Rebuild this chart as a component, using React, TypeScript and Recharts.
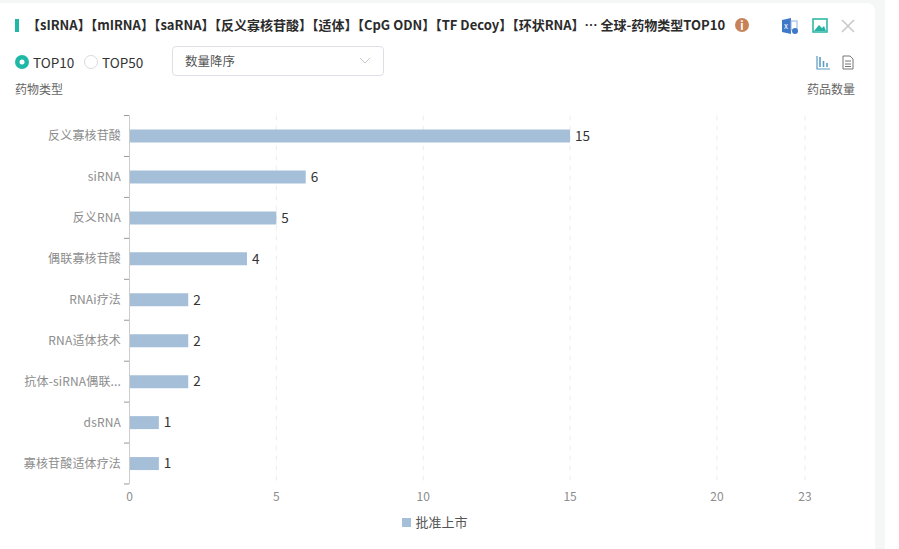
import { BarChart, Bar, CartesianGrid, XAxis, YAxis, Legend, LabelList } from 'recharts';

const FONT = '"Noto Sans CJK SC", "Noto Sans", sans-serif';

const categories = ['反义寡核苷酸', 'siRNA', '反义RNA', '偶联寡核苷酸', 'RNAi疗法', 'RNA适体技术', '抗体-siRNA偶联...', 'dsRNA', '寡核苷酸适体疗法'];
const approved = [15, 6, 5, 4, 2, 2, 2, 1, 1];
const xTicks = [0, 5, 10, 15, 20, 23];
const title = '【sIRNA】【mIRNA】【saRNA】【反义寡核苷酸】【适体】【CpG ODN】【TF Decoy】【环状RNA】… 全球-药物类型TOP10';

const data = categories.map((name, i) => ({ name, value: approved[i] }));

const BAND = 40.9;

// tick marks sit on the band edges, not the band centre
function CategoryTick({ x, y, payload, index }: any) {
  return (
    <g>
      <line x1={x + 8.5} x2={x + 13.5} y1={y - BAND / 2} y2={y - BAND / 2} stroke="#999" />
      {index === categories.length - 1 && (
        <line x1={x + 8.5} x2={x + 13.5} y1={y + BAND / 2} y2={y + BAND / 2} stroke="#999" />
      )}
      <text x={x + 5.5} y={y} dy={4} textAnchor="end" fontSize={12} letterSpacing={0.15} fill="#8c8c8c" fontFamily={FONT}>
        {payload.value}
      </text>
    </g>
  );
}

function Header() {
  return (
    <>
      <div style={{ position: 'absolute', left: 15, top: 19, width: 4, height: 13, background: '#1fb8a6' }} />
      <div style={{ position: 'absolute', left: 27, top: 15, width: 700, fontSize: 13, lineHeight: '20px', fontWeight: 700, color: '#2b2b2b', whiteSpace: 'nowrap' }}>
        {title}
      </div>
      <div style={{ position: 'absolute', left: 735, top: 18, width: 14, height: 14, borderRadius: 7, background: '#c8825a', color: '#fff', fontSize: 11, lineHeight: '14px', textAlign: 'center', fontWeight: 700 }}>i</div>

      <svg style={{ position: 'absolute', left: 780, top: 16 }} width={100} height={20}>
        <path d="M2 4 L11 2 V18 L2 16 Z" fill="#3f78c9" />
        <rect x={11} y={5} width={6} height={9} fill="none" stroke="#8fb0de" />
        <circle cx={15} cy={15} r={3} fill="#3f78c9" />
        <text x={4} y={13} fontSize={8} fill="#fff" fontFamily={FONT}>x</text>
        <rect x={33} y={3} width={14} height={13} fill="none" stroke="#25b3a3" strokeWidth={1.5} />
        <path d="M34 15 L39 9 L42 12 L44 10 L46 15 Z" fill="#25b3a3" />
        <path d="M62 4 L74 16 M74 4 L62 16" stroke="#c9c9c9" strokeWidth={1.6} />
      </svg>

      <svg style={{ position: 'absolute', left: 15, top: 55 }} width={14} height={14}>
        <circle cx={7} cy={7} r={7} fill="#1fb8a6" />
        <circle cx={7} cy={7} r={2.5} fill="#fff" />
      </svg>
      <div style={{ position: 'absolute', left: 33, top: 52, fontSize: 13.5, lineHeight: '20px', color: '#333' }}>TOP10</div>
      <svg style={{ position: 'absolute', left: 84, top: 55 }} width={14} height={14}>
        <circle cx={7} cy={7} r={6.5} fill="#fff" stroke="#d9d9d9" />
      </svg>
      <div style={{ position: 'absolute', left: 102, top: 52, fontSize: 13.5, lineHeight: '20px', color: '#333' }}>TOP50</div>

      <div style={{ position: 'absolute', left: 172, top: 46, width: 210, height: 28, border: '1px solid #dcdfe6', borderRadius: 4, fontSize: 12.5, lineHeight: '27px', color: '#555', textIndent: 12 }}>
        数量降序
      </div>
      <svg style={{ position: 'absolute', left: 358, top: 56 }} width={14} height={10}>
        <path d="M2 2 L7 7 L12 2" fill="none" stroke="#c4c7cc" />
      </svg>

      <svg style={{ position: 'absolute', left: 815, top: 54 }} width={40} height={18}>
        <path d="M2 2 V15 H15" fill="none" stroke="#5b9bc4" strokeWidth={1.2} />
        <path d="M5 3 V13 M8.5 7 V13 M12 9 V13" stroke="#5b9bc4" strokeWidth={1.6} />
        <path d="M28 2 H35 L38 5 V15 H28 Z M30 7 H36 M30 10 H36 M30 12.5 H36" fill="none" stroke="#777" />
      </svg>

      <div style={{ position: 'absolute', left: 15, top: 80, fontSize: 12, lineHeight: '17px', color: '#666' }}>药物类型</div>
      <div style={{ position: 'absolute', left: 807, top: 80, fontSize: 12, lineHeight: '17px', color: '#666' }}>药品数量</div>
    </>
  );
}

export default function App() {
  return (
    <div style={{ position: 'absolute', left: 0, top: 0, width: 899, height: 549, overflow: 'hidden', background: '#fff', fontFamily: FONT }}>
      <div style={{ position: 'absolute', left: 0, top: 0, width: 885, height: 549, background: '#f5f7f7' }} />
      <div style={{ position: 'absolute', left: 0, top: 3, width: 875, height: 546, background: '#fff', borderTopRightRadius: 8 }} />
      <Header />
      <div style={{ position: 'absolute', left: 0, top: 0 }}>
        <BarChart
          width={899}
          height={549}
          layout="vertical"
          data={data}
          barSize={13}
          margin={{ top: 115.5, right: 94, bottom: 0, left: 0 }}
        >
          <CartesianGrid horizontal={false} stroke="#ececec" strokeDasharray="5 5" />
          <XAxis
            type="number"
            domain={[0, 23]}
            ticks={xTicks}
            interval={0}
            axisLine={false}
            tickLine={false}
            height={41}
            tick={{ fontSize: 12, fill: '#8c8c8c', fontFamily: FONT }}
            tickMargin={2}
          />
          <YAxis
            type="category"
            dataKey="name"
            width={129.5}
            interval={0}
            axisLine={{ stroke: '#ccc' }}
            tickLine={false}
            tick={<CategoryTick />}
            tickMargin={8}
          />
          <Bar dataKey="value" name="批准上市" fill="#a5bfd9" isAnimationActive={false}>
            <LabelList dataKey="value" position="right" offset={5} fill="#333" fontSize={13.5} fontFamily={FONT} />
          </Bar>
          <Legend
            iconType="square"
            iconSize={9}
            wrapperStyle={{ position: 'absolute', left: 395, top: 507.5, width: 90, bottom: 'auto' }}
            formatter={(v: string) => <span style={{ color: '#555', fontSize: 13 }}>{v}</span>}
          />
        </BarChart>
      </div>
    </div>
  );
}
